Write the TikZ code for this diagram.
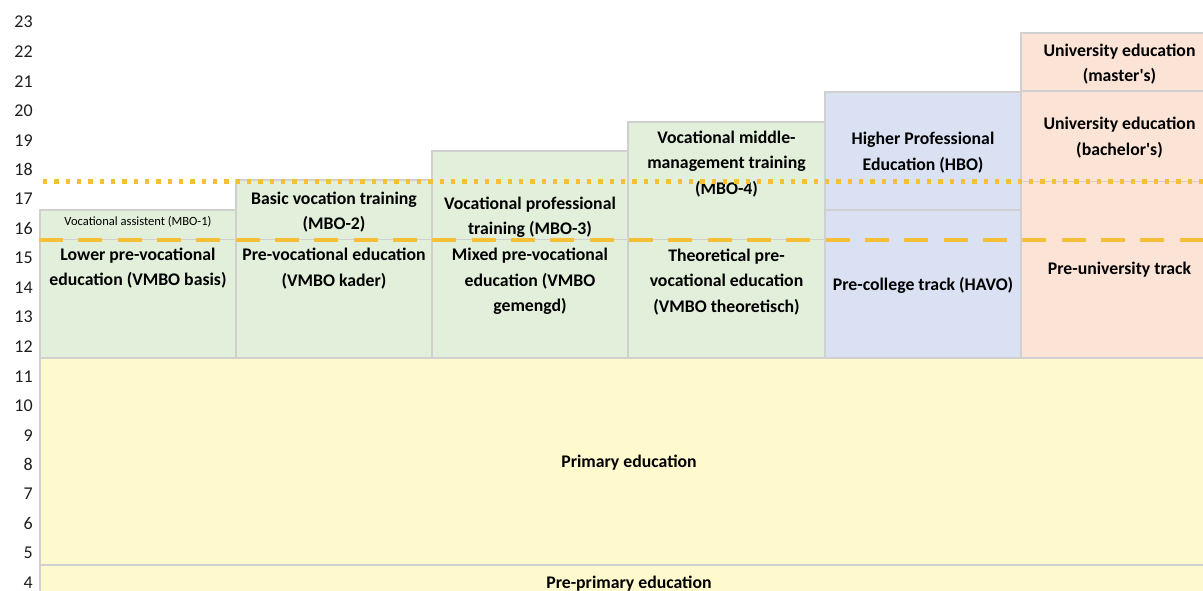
\documentclass[tikz,border=0pt]{standalone}
\usepackage{fontspec}
\setmainfont{Carlito}
\definecolor{gridgray}{RGB}{208,208,208}
\definecolor{vmbogreen}{RGB}{226,239,218}
\definecolor{baseyellow}{RGB}{255,250,205}
\definecolor{havoblue}{RGB}{218,225,242}
\definecolor{vwopink}{RGB}{251,227,214}
\definecolor{levelgold}{RGB}{247,190,55}
\definecolor{axisgray}{RGB}{30,30,30}

\begin{document}
\begin{tikzpicture}[x=0.75pt,y=0.75pt,yscale=-1,xscale=1,
	cell/.style={draw=gridgray, line width=1.4pt},
	lbl/.style={inner sep=0pt, align=center, text=black, font=\bfseries\fontsize{13.3}{19.1}\selectfont},
	smalllbl/.style={inner sep=0pt, align=center, text=black, font=\fontsize{9.4}{12}\selectfont},
	axislbl/.style={inner sep=0pt, anchor=east, text=axisgray, font=\fontsize{13.5}{16}\selectfont}]
	\useasboundingbox (0,0) rectangle (1203,590); %set diagram to 1203 x 590
	
	%Shape: Rectangle [pre-primary and primary]
	\draw [cell, fill=baseyellow] (40,565) rectangle (1218,600) ;
	\draw [cell, fill=baseyellow] (40,358) rectangle (1218,565) ;
	%Shape: Rectangle [vmbo basis]
	\draw [cell, fill=vmbogreen] (40,210) rectangle (236,239.5) ;
	\draw [cell, fill=vmbogreen] (40,239.5) rectangle (236,358) ;
	%Shape: Rectangle [vmbo kader]
	\draw [cell, fill=vmbogreen] (236,180) rectangle (432,239.5) ;
	\draw [cell, fill=vmbogreen] (236,239.5) rectangle (432,358) ;
	%Shape: Rectangle [vmbo gemengd]
	\draw [cell, fill=vmbogreen] (432,151) rectangle (628,239.5) ;
	\draw [cell, fill=vmbogreen] (432,239.5) rectangle (628,358) ;
	%Shape: Rectangle [vmbo theoretisch]
	\draw [cell, fill=vmbogreen] (628,121.7) rectangle (825,239.5) ;
	\draw [cell, fill=vmbogreen] (628,239.5) rectangle (825,358) ;
	%Shape: Rectangle [havo]
	\draw [cell, fill=havoblue] (825,92) rectangle (1021,210) ;
	\draw [cell, fill=havoblue] (825,210) rectangle (1021,358) ;
	%Shape: Rectangle [vwo]
	\draw [cell, fill=vwopink] (1021,32.7) rectangle (1218,91) ;
	\draw [cell, fill=vwopink] (1021,91) rectangle (1218,181.5) ;
	\draw [cell, fill=vwopink] (1021,181.5) rectangle (1218,358) ;
	
	% Axis Nodes
	\foreach \n in {4,...,23}
		\draw (33,{22.2+(23-\n)*29.5}) node (age\n) [axislbl] {\n};
	
	% Text Node
	\draw (629,463) node (primary) [lbl] {Primary education};
	% Text Node
	\draw (629,584) node (preprimary) [lbl] {Pre-primary education};
	% Text Node
	\draw (138,222) node (mboone) [smalllbl] {Vocational assistent (MBO-1)};
	% Text Node
	\draw (138,268) node (basis) [lbl] {Lower pre-vocational\\education (VMBO basis)};
	% Text Node
	\draw (334,212) node (mbotwo) [lbl] {Basic vocation training\\(MBO-2)};
	% Text Node
	\draw (334,268.5) node (kader) [lbl] {Pre-vocational education\\(VMBO kader)};
	% Text Node
	\draw (530,217.5) node (mbothree) [lbl] {Vocational professional\\training (MBO-3)};
	% Text Node
	\draw (530,281.5) node (gemengd) [lbl] {Mixed pre-vocational\\education (VMBO\\gemengd)};
	% Text Node
	\draw (726.5,164) node (mbofour) [lbl] {Vocational middle-\\management training\\(MBO-4)};
	% Text Node
	\draw (726.5,282) node (theoretisch) [lbl] {Theoretical pre-\\vocational education\\(VMBO theoretisch)};
	% Text Node
	\draw (923,152.5) node (hbo) [lbl] {Higher Professional\\Education (HBO)};
	% Text Node
	\draw (923,285) node (havo) [lbl] {Pre-college track (HAVO)};
	% Text Node
	\draw (1119.5,64) node (master) [lbl] {University education\\(master\textquotesingle s)};
	% Text Node
	\draw (1119.5,137.5) node (bachelor) [lbl] {University education\\(bachelor\textquotesingle s)};
	% Text Node
	\draw (1119.5,270) node (vwo) [lbl] {Pre-university track};
	
	%Straight Lines [dotted level]
	\draw [levelgold, line width=3.3pt, dash pattern={on 3.3pt off 5.2pt}] (43,181.5) -- (1210,181.5) ;
	%Straight Lines [dashed level]
	\draw [levelgold, line width=3pt, dash pattern={on 18pt off 11.5pt}] (39,239.5) -- (1210,239.5) ;
	
\end{tikzpicture}
\end{document}
